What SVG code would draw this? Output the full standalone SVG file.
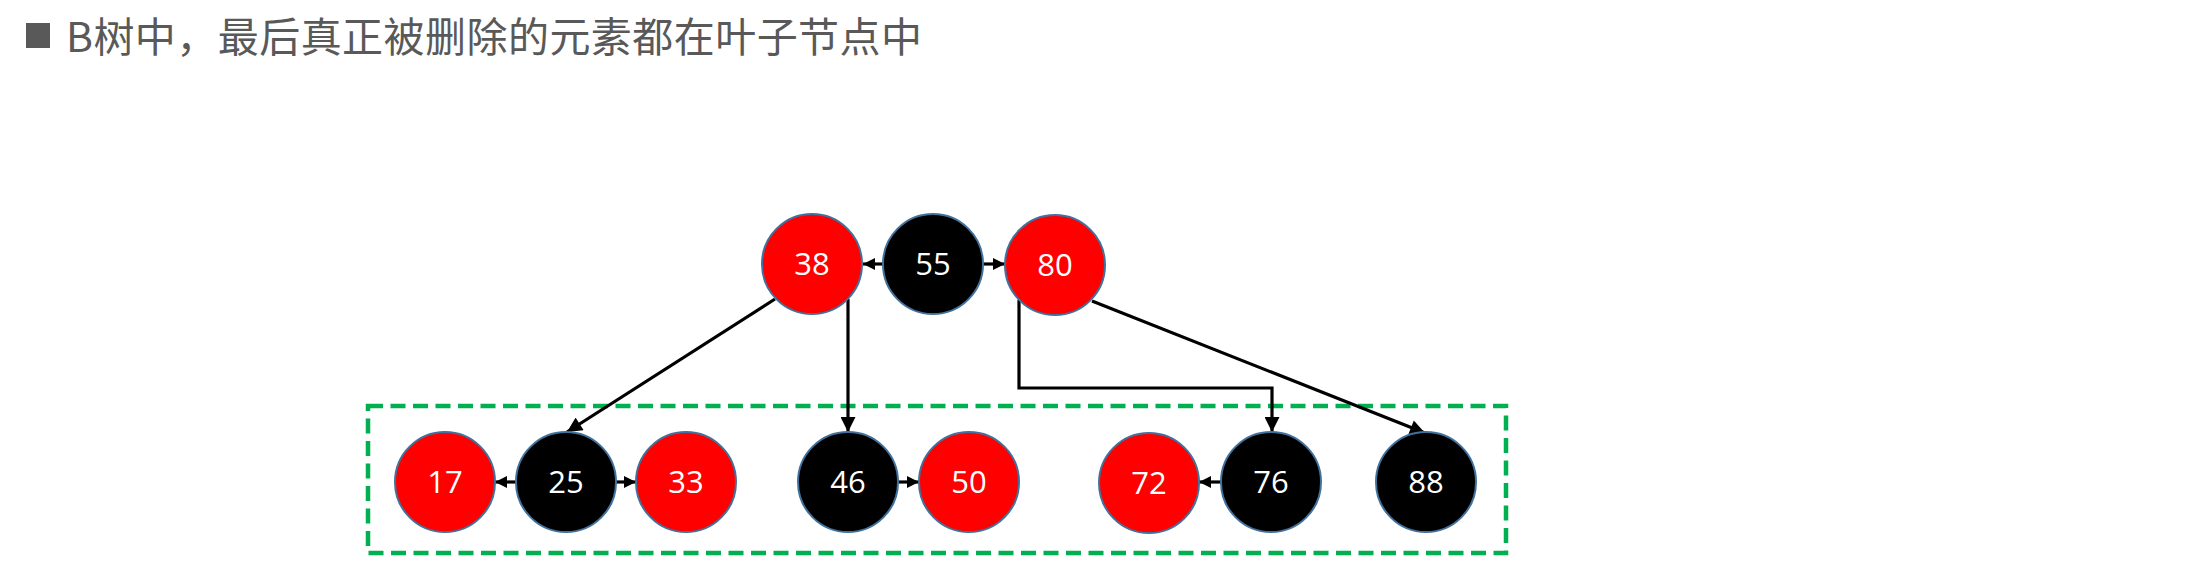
<svg xmlns="http://www.w3.org/2000/svg" width="2212" height="570" viewBox="0 0 2212 570">
<style>
.title{font-family:"Noto Sans CJK SC","Noto Sans",sans-serif;font-size:41px;fill:#595959}
.red{fill:#FF0000;stroke:#41719C;stroke-width:2}
.blk{fill:#000000;stroke:#41719C;stroke-width:2}
.lbl{font-family:"Open Sans","Noto Sans",sans-serif;font-size:31px;fill:#FFFFFF;text-anchor:middle}
.edge{fill:none;stroke:#000;stroke-width:3.2;marker-end:url(#arr)}
.sedge{fill:none;stroke:#000;stroke-width:3.2;marker-end:url(#sarr)}
</style>
<defs>
<marker id="arr" viewBox="0 0 10 10" refX="10" refY="5" markerUnits="userSpaceOnUse" markerWidth="16" markerHeight="15" orient="auto">
<path d="M0,0 L10,5 L0,10 z" fill="#000"/>
</marker>
<marker id="sarr" viewBox="0 0 10 10" refX="10" refY="5" markerUnits="userSpaceOnUse" markerWidth="12" markerHeight="13" orient="auto">
<path d="M0,0 L10,5 L0,10 z" fill="#000"/>
</marker>
</defs>
<rect width="2212" height="570" fill="#FFFFFF"/>
<g id="title">
<rect x="26" y="23" width="24" height="25" fill="#595959"/>
<text class="title" x="66" y="52" textLength="856" lengthAdjust="spacing">B树中，最后真正被删除的元素都在叶子节点中</text>
</g>
<rect id="leaf-box" x="368" y="406" width="1138" height="147" fill="none" stroke="#00B050" stroke-width="4.5" stroke-dasharray="15,7.5"/>
<g id="connectors">
<line class="sedge" x1="883" y1="264" x2="863" y2="264"/>
<line class="sedge" x1="983" y1="264" x2="1005" y2="264"/>
<line class="edge" x1="775" y1="299" x2="567" y2="432"/>
<line class="edge" x1="848" y1="299" x2="848" y2="432"/>
<polyline class="edge" points="1019,300 1019,388 1272,388 1272,432"/>
<line class="edge" x1="1092" y1="301" x2="1425" y2="433"/>
<line class="sedge" x1="516" y1="482" x2="495" y2="482"/>
<line class="sedge" x1="615" y1="482" x2="636" y2="482"/>
<line class="sedge" x1="898" y1="482" x2="919" y2="482"/>
<line class="sedge" x1="1221" y1="482" x2="1199" y2="482"/>
</g>
<g id="n38"><circle class="red" cx="812" cy="264" r="50"/><text class="lbl" x="812" y="275">38</text></g>
<g id="n55"><circle class="blk" cx="933" cy="264" r="50"/><text class="lbl" x="933" y="275">55</text></g>
<g id="n80"><circle class="red" cx="1055" cy="265" r="50"/><text class="lbl" x="1055" y="276">80</text></g>
<g id="n17"><circle class="red" cx="445" cy="482" r="50"/><text class="lbl" x="445" y="493">17</text></g>
<g id="n25"><circle class="blk" cx="566" cy="482" r="50"/><text class="lbl" x="566" y="493">25</text></g>
<g id="n33"><circle class="red" cx="686" cy="482" r="50"/><text class="lbl" x="686" y="493">33</text></g>
<g id="n46"><circle class="blk" cx="848" cy="482" r="50"/><text class="lbl" x="848" y="493">46</text></g>
<g id="n50"><circle class="red" cx="969" cy="482" r="50"/><text class="lbl" x="969" y="493">50</text></g>
<g id="n72"><circle class="red" cx="1149" cy="483" r="50"/><text class="lbl" x="1149" y="494">72</text></g>
<g id="n76"><circle class="blk" cx="1271" cy="482" r="50"/><text class="lbl" x="1271" y="493">76</text></g>
<g id="n88"><circle class="blk" cx="1426" cy="482" r="50"/><text class="lbl" x="1426" y="493">88</text></g>
</svg>
